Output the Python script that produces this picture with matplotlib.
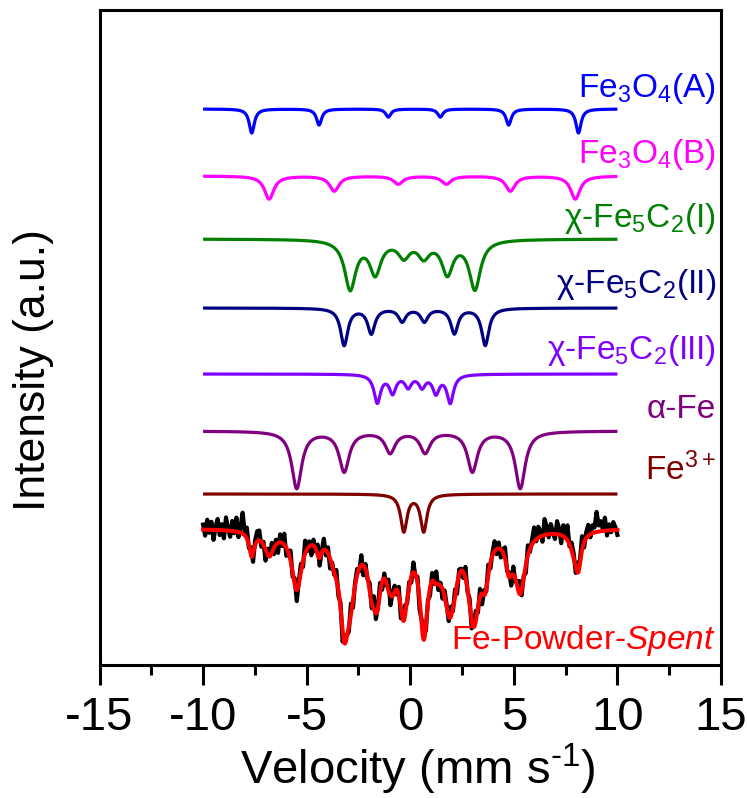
import numpy as np
import matplotlib
matplotlib.use("Agg")
import matplotlib.pyplot as plt
from matplotlib.ticker import MultipleLocator

plt.rcParams['font.family'] = ['Liberation Sans', 'DejaVu Sans']
plt.rcParams['mathtext.fontset'] = 'custom'
plt.rcParams['mathtext.rm'] = 'Liberation Sans'
plt.rcParams['mathtext.it'] = 'Liberation Sans:italic'
plt.rcParams['axes.unicode_minus'] = False

# spectrometer channels (mm/s)
V_MIN, V_MAX, N_CH = -10.0, 10.0, 200

# sub-spectra: line centres (mm/s), line depths (a.u.), FWHM (mm/s)
FE3O4_A_POS = [-7.65, -4.40, -1.06, 1.45, 4.75, 8.12]
FE3O4_A_DEPTH = [24, 16, 8, 8, 16, 24]
FE3O4_A_FWHM = 0.30

FE3O4_B_POS = [-6.81, -3.67, -0.58, 1.74, 4.83, 7.97]
FE3O4_B_DEPTH = [23, 15, 8, 8, 15, 23]
FE3O4_B_FWHM = 0.55

FE5C2_I_POS = [-2.90, -1.69, -0.31, 0.65, 1.79, 3.12]
FE5C2_I_DEPTH = [49, 33, 16, 16, 33, 49]
FE5C2_I_FWHM = 0.65

FE5C2_II_POS = [-3.19, -1.88, -0.39, 0.68, 2.13, 3.62]
FE5C2_II_DEPTH = [37, 25, 13, 13, 25, 37]
FE5C2_II_FWHM = 0.42

FE5C2_III_POS = [-1.59, -0.85, -0.10, 0.57, 1.24, 1.93]
FE5C2_III_DEPTH = [28, 18, 12, 12, 18, 28]
FE5C2_III_FWHM = 0.38

ALPHA_FE_POS = [-5.48, -3.19, -0.97, 0.72, 3.00, 5.31]
ALPHA_FE_DEPTH = [57, 40, 21, 21, 40, 57]
ALPHA_FE_FWHM = 0.58

FE3_POS = [-0.31, 0.65]
FE3_DEPTH = [37, 37]
FE3_FWHM = 0.37

# vertical offsets of the stacked curves (a.u.)
OFFSETS = [556, 489, 426, 357, 291, 234, 171]
DATA_OFFSET = 136.5

LABELS = [r'Fe$_3$O$_4$(A)', r'Fe$_3$O$_4$(B)', r'χ-Fe$_5$C$_2$(I)',
          r'χ-Fe$_5$C$_2$(II)', r'χ-Fe$_5$C$_2$(III)', 'α-Fe', r'Fe$^{3+}$']
LABEL_Y = [577, 510, 447, 380, 315, 255, 195]
COLORS = ['#0000FF', '#FF00FF', '#008000', '#000080', '#8000FF', '#800080', '#800000']

# measured counts minus fit, per channel (a.u.)
RESIDUALS = [
    5, -6, 10, -3, 8, -10, 3, 11, -5, 6, -8, 13, 2, -6, 10, -2, 14, -5, 6, 21,
    3, 11, -3, 8, -8, 5, 10, 10, -5, 3, -11, 6, 0, 10, -6, 5, -10, 8, -3, 11,
    -8, 2, 10, -5, 6, -11, 3, 8, -6, 13, -2, 5, -10, 6, -3, 10, -8, 2, 11, -5,
    6, -10, 3, -2, 10, -6, 5, -11, 8, 2, -5, 11, -8, 3, 6, -3, 10, -10, 5, -2,
    8, -5, 13, -6, 2, 10, -8, 5, -3, 11, -10, 3, 6, -5, 8, -11, 2, 10, -3, 5,
    -6, 10, -2, 6, -10, 5, 11, -5, 3, -8, 8, -2, 13, -6, 3, -10, 6, 2, -5, 10,
    -3, 8, -10, 5, 2, -6, 11, -3, 6, -8, 3, 10, -5, 8, -11, 5, -2, 10, -6, 3,
    10, -5, 6, -8, 3, 11, -2, 5, -10, 8, -3, 6, 13, -5, 2, -8, 10, -3, 5, 14,
    -2, 11, 5, -6, 16, 8, -3, 10, 2, -5, 13, 6, -8, 11, 3, 15, -2, 8, 5, -6,
    10, 3, 14, -5, 6, 11, -3, 8, 5, 20, 6, 10, 2, 13, -5, 6, -2, 8, 3, -5,
]

COMPONENTS = [
    (FE3O4_A_POS, FE3O4_A_DEPTH, FE3O4_A_FWHM),
    (FE3O4_B_POS, FE3O4_B_DEPTH, FE3O4_B_FWHM),
    (FE5C2_I_POS, FE5C2_I_DEPTH, FE5C2_I_FWHM),
    (FE5C2_II_POS, FE5C2_II_DEPTH, FE5C2_II_FWHM),
    (FE5C2_III_POS, FE5C2_III_DEPTH, FE5C2_III_FWHM),
    (ALPHA_FE_POS, ALPHA_FE_DEPTH, ALPHA_FE_FWHM),
    (FE3_POS, FE3_DEPTH, FE3_FWHM),
]


def absorption(v, pos, depth, fwhm):
    """Sum of Lorentzian absorption lines."""
    hw2 = (fwhm / 2.0) ** 2
    out = np.zeros_like(v)
    for c, d in zip(pos, depth):
        out += d * hw2 / ((v - c) ** 2 + hw2)
    return out


v_fine = np.linspace(V_MIN, V_MAX, 1200)
v_ch = np.linspace(V_MIN, V_MAX, N_CH)

fig = plt.figure(figsize=(7.47, 7.98), dpi=100)
ax = fig.add_axes([99.5 / 747, 1 - 665 / 798, (721 - 99.5) / 747, (665 - 10) / 798])

total_fine = np.zeros_like(v_fine)
total_ch = np.zeros_like(v_ch)
for (pos, depth, fwhm), off, col, lab, ly in zip(COMPONENTS, OFFSETS, COLORS, LABELS, LABEL_Y):
    a = absorption(v_fine, pos, depth, fwhm)
    total_fine += a
    total_ch += absorption(v_ch, pos, depth, fwhm)
    ax.plot(v_fine, off - a, color=col, lw=2.3, solid_capstyle='butt')
    ax.text(14.75, ly, lab, color=col, fontsize=24, ha='right', va='center')

measured = DATA_OFFSET - total_ch + np.array(RESIDUALS)
ax.plot(v_ch, measured, color='black', lw=3.0, zorder=3)
ax.plot(v_fine, DATA_OFFSET - total_fine, color='#FF0000', lw=2.9, zorder=4)
ax.text(14.75, 25, r'Fe-Powder-$\mathit{Spent}$', color='#FF0000',
        fontsize=24, ha='right', va='center')

ax.set_xlim(-15, 15)
ax.set_ylim(0, 655)
ax.set_yticks([])
ax.xaxis.set_major_locator(MultipleLocator(5))
ax.xaxis.set_minor_locator(MultipleLocator(2.5))
ax.tick_params(axis='x', which='major', direction='out', length=14.5, width=2.2,
               labelsize=34, pad=8)
ax.tick_params(axis='x', which='minor', direction='out', length=7.2, width=2.2)
for sp in ax.spines.values():
    sp.set_linewidth(2.2)

ax.set_xlabel(r'Velocity (mm s$^{\text{-1}}$)', fontsize=34)
ax.xaxis.set_label_coords(0.512, -0.117)
ax.set_ylabel('Intensity (a.u.)', fontsize=32)
ax.yaxis.set_label_coords(-0.073, 0.45)

fig.savefig('out.png', dpi=100)
